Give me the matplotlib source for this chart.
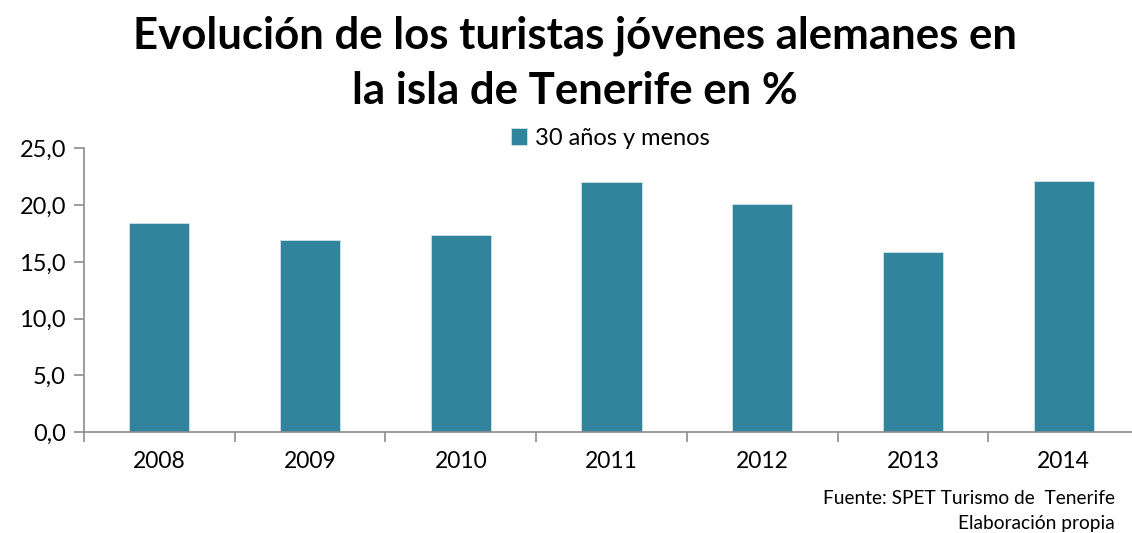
import numpy as np
import matplotlib
matplotlib.use('Agg')
import matplotlib.pyplot as plt

plt.rcParams['font.family'] = ['Lato', 'DejaVu Sans']

YEARS = ['2008', '2009', '2010', '2011', '2012', '2013', '2014']
YOUNG = [18.4, 16.9, 17.4, 22.0, 20.1, 15.9, 22.1]
SERIES = '30 años y menos'
TITLE = 'Evolución de los turistas jóvenes alemanes en\nla isla de Tenerife en %'
SOURCE = ['Fuente: SPET Turismo de  Tenerife', 'Elaboración propia']

BAR_COLOR = '#31849B'
AXIS_GREY = '#8c8c8c'

fig = plt.figure(figsize=(11.32, 5.33), dpi=100)
ax = fig.add_axes([0.0742, 0.1895, 0.932, 0.532])

x = np.arange(len(YEARS))
ax.bar(x, YOUNG, width=0.4, color=BAR_COLOR, edgecolor='#cfe3ea',
       linewidth=0.6, label=SERIES, zorder=2)

ax.set_xlim(-0.5, len(YEARS) - 0.5)
ax.set_ylim(0, 25)
ax.set_yticks(np.arange(0, 26, 5))
ax.set_yticklabels([f'{v:.1f}'.replace('.', ',') for v in np.arange(0, 26, 5)])
ax.set_xticks(x)
ax.set_xticklabels(YEARS)
ax.set_xticks(np.arange(-0.5, len(YEARS)), minor=True)

for side in ['top', 'right']:
    ax.spines[side].set_visible(False)
for side in ['left', 'bottom']:
    ax.spines[side].set_color(AXIS_GREY)
    ax.spines[side].set_linewidth(1.2)

ax.tick_params(axis='y', length=7, width=1.2, color=AXIS_GREY,
               labelsize=17, pad=6, labelcolor='black')
ax.tick_params(axis='x', which='major', length=0, labelsize=16.5, pad=14,
               labelcolor='black')
ax.tick_params(axis='x', which='minor', length=7, width=1.2, color=AXIS_GREY)

fig.text(0.508, 0.97, TITLE, ha='center', va='top', fontsize=31.5,
         fontweight='bold', linespacing=1.45)

fig.legend(*ax.get_legend_handles_labels(), loc='center',
           bbox_to_anchor=(0.539, 0.741), frameon=False,
           fontsize=17, handlelength=0.7, handleheight=0.7, handletextpad=0.3,
           borderaxespad=0, borderpad=0)

fig.text(0.985, 0.065, SOURCE[0], ha='right', va='center', fontsize=13.8)
fig.text(0.985, 0.018, SOURCE[1], ha='right', va='center', fontsize=13.8)

fig.savefig('out.png', dpi=100)
